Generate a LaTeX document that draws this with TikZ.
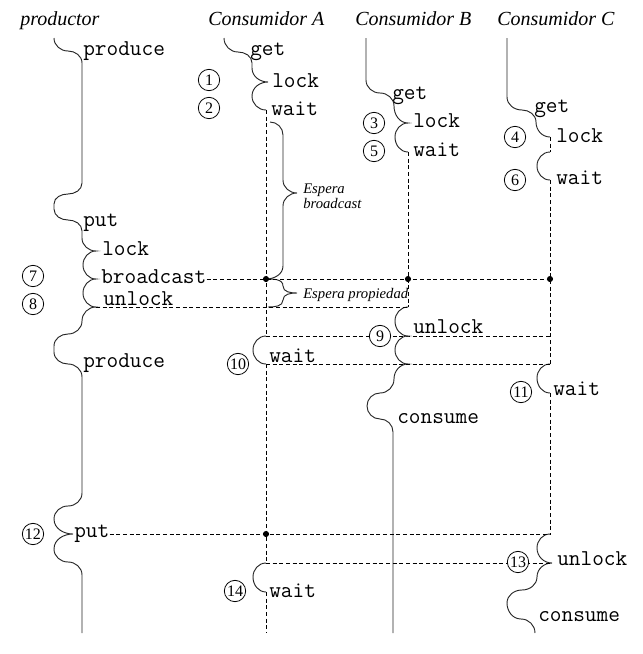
\documentclass[tikz,border=0pt]{standalone}
\usepackage{fontspec}
\setmainfont{Liberation Serif}

\begin{document}
\begin{tikzpicture}[x=0.75pt, y=-0.75pt,
  life/.style={line width=0.7pt, draw=black!85},
  wt/.style={dash pattern=on 3pt off 2pt, line width=0.7pt},
  lbl/.style={font=\fontsize{17}{20}\selectfont\ttfamily, anchor=base west, inner sep=0pt},
  hdr/.style={font=\fontsize{15}{18}\selectfont\itshape, anchor=base west, inner sep=0pt},
  note/.style={font=\fontsize{11}{13}\selectfont\itshape, anchor=base west, inner sep=0pt},
  num/.style={circle, draw, fill=white, line width=0.6pt, minimum size=16pt, inner sep=0pt,
              font=\fontsize{12}{13}\selectfont}]
  \useasboundingbox (0,0) rectangle (643,654);

  % tips of the lifelines
  \coordinate (pLk) at (96,251);  \coordinate (pBc) at (96,279);
  \coordinate (pUn) at (96,307);  \coordinate (pPt) at (73,534);
  \coordinate (aLk) at (268,82);  \coordinate (aWt) at (266,110);
  \coordinate (aW2) at (266,336); \coordinate (aW2t) at (266,364);
  \coordinate (aW3) at (266,563); \coordinate (aW3t) at (266,592);
  \coordinate (aEnd) at (266,633);
  \coordinate (bLk) at (408,123); \coordinate (bWt) at (408,152);
  \coordinate (bUa) at (408,307); \coordinate (bUn) at (408,336);
  \coordinate (bCs) at (408,364);
  \coordinate (cLk) at (550,137); \coordinate (cLk2) at (550,152);
  \coordinate (cWt) at (550,180); \coordinate (cW2) at (550,364);
  \coordinate (cW2t) at (550,393); \coordinate (cUa) at (550,534);
  \coordinate (cUn) at (552,563);
  \coordinate (dA) at (266,279); \coordinate (dB) at (408,279);
  \coordinate (dC) at (550,279); \coordinate (dP) at (266,534);

  \node[hdr] (hProd) at (20,25)  {productor};
  \node[hdr] (hConA) at (208,25) {Consumidor A};
  \node[hdr] (hConB) at (355,25) {Consumidor B};
  \node[hdr] (hConC) at (497,25) {Consumidor C};

  \node[lbl] (lbProd)  at (83,55)   {produce};
  \node[lbl] (lbPut)   at (83,226)  {put};
  \node[lbl] (lbLock)  at (102,255) {lock};
  \node[lbl] (lbBc)    at (101,283) {broadcast};
  \node[lbl] (lbUnl)   at (103,305) {unlock};
  \node[lbl] (lbProd2) at (83,367)  {produce};
  \node[lbl] (lbPut2)  at (74,537)  {put};

  \node[lbl] (laGet)  at (250,55)  {get};
  \node[lbl] (laLock) at (272,87)  {lock};
  \node[lbl] (laWait) at (271,115) {wait};
  \node[lbl] (laW2)   at (269,362) {wait};
  \node[lbl] (laW3)   at (269,597) {wait};

  \node[lbl] (lbGet)  at (392,99)  {get};
  \node[lbl] (lbLk)   at (413,127) {lock};
  \node[lbl] (lbWait) at (413,156) {wait};
  \node[lbl] (lbUn)   at (413,333) {unlock};
  \node[lbl] (lbCons) at (397,423) {consume};

  \node[lbl] (lcGet)  at (534,112) {get};
  \node[lbl] (lcLock) at (556,142) {lock};
  \node[lbl] (lcWait) at (556,184) {wait};
  \node[lbl] (lcW2)   at (553,395) {wait};
  \node[lbl] (lcUn)   at (557,565) {unlock};
  \node[lbl] (lcCons) at (538,621) {consume};

  \node[note] (nEsp)  at (303,193) {Espera};
  \node[note] (nBc)   at (303,208) {broadcast};
  \node[note] (nProp) at (303,298) {Espera propiedad};

  % productor
  \draw[life] (54,38) to[out=-90,in=180] (68,51) to[out=0,in=90] (82,63) -- (82,183)
    to[out=-90,in=0] (68,194) to[out=180,in=90] (54,204) -- (54,209)
    to[out=-90,in=180] (68,220) to[out=0,in=90] (82,231) -- (82,238)
    to[out=-90,in=180] (pLk) to[out=180,in=90] (83,265) to[out=-90,in=180] (pBc)
    to[out=180,in=90] (83,293) to[out=-90,in=180] (pUn)
    to[out=180,in=90] (82,321) to[out=-90,in=0] (68,334) to[out=180,in=90] (54,346) -- (54,352)
    to[out=-90,in=180] (68,364) to[out=0,in=90] (82,377) -- (82,493)
    to[out=-90,in=0] (68,506) to[out=180,in=90] (54,519) to[out=-90,in=180] (pPt)
    to[out=180,in=90] (54,549) to[out=-90,in=180] (68,562) to[out=0,in=90] (82,575) -- (82,633);

  % consumidor A
  \draw[life] (224,38) to[out=-90,in=180] (238,52) to[out=0,in=90] (252,63) -- (252,68)
    to[out=-90,in=180] (aLk) to[out=180,in=90] (252,96) to[out=-90,in=180] (aWt);
  \draw[life] (aW2) to[out=180,in=90] (253,350) to[out=-90,in=180] (aW2t);
  \draw[life] (aW3) to[out=180,in=90] (253,577) to[out=-90,in=180] (aW3t);
  \draw[wt] (aWt) -- (aW2);
  \draw[wt] (aW2t) -- (aW3);
  \draw[wt] (aW3t) -- (aEnd);

  \draw[life] (270,122) to[out=0,in=90] (283,135) -- (283,180) to[out=-90,in=180] (297,193)
    to[out=180,in=90] (283,206) -- (283,266) to[out=-90,in=0] (dA);
  \draw[life] (dA) to[out=0,in=90] (283,286) to[out=-90,in=180] (297,293)
    to[out=180,in=90] (283,300) to[out=-90,in=0] (268,307);

  % consumidor B
  \draw[life] (366,38) -- (366,80) to[out=-90,in=180] (380,93) to[out=0,in=90] (394,106)
    to[out=-90,in=180] (bLk) to[out=180,in=90] (395,137) to[out=-90,in=180] (bWt);
  \draw[life] (bUa) to[out=180,in=90] (395,321) to[out=-90,in=180] (bUn)
    to[out=180,in=90] (395,350) to[out=-90,in=180] (bCs)
    to[out=180,in=90] (394,379) to[out=-90,in=0] (380,393) to[out=180,in=90] (367,406)
    to[out=-90,in=180] (380,419) to[out=0,in=90] (393,432) -- (393,633);
  \draw[wt] (bWt) -- (bUa);

  % consumidor C
  \draw[life] (507,38) -- (507,97) to[out=-90,in=180] (522,110) to[out=0,in=90] (536,122)
    to[out=-90,in=180] (cLk);
  \draw[life] (cLk2) to[out=180,in=90] (537,166) to[out=-90,in=180] (cWt);
  \draw[life] (cW2) to[out=180,in=90] (537,378) to[out=-90,in=180] (cW2t);
  \draw[life] (cUa) to[out=180,in=90] (537,548) to[out=-90,in=180] (cUn)
    to[out=180,in=90] (537,577) to[out=-90,in=0] (522,590) to[out=180,in=90] (507,603)
    to[out=-90,in=180] (521,619) to[out=0,in=90] (535,633);
  \draw[wt] (cLk) -- (cLk2);
  \draw[wt] (cWt) -- (cW2);
  \draw[wt] (cW2t) -- (cUa);

  % horizontal links
  \draw[wt] (lbBc.east |- pBc) -- (dC);
  \draw[wt] (pUn) -- (bUa);
  \draw[wt] (aW2) -- (bUn) -- (cWt |- bUn);
  \draw[wt] (aW2t) -- (cW2);
  \draw[wt] (lbPut2.east |- pPt) -- (cUa);
  \draw[wt] (aW3) -- (cUn);

  \foreach \d in {dA,dB,dC,dP}
    \fill (\d) circle[radius=2.3pt];

  \node[num] (n1)  at (209,80)  {1};
  \node[num] (n2)  at (209,108) {2};
  \node[num] (n3)  at (374,123) {3};
  \node[num] (n4)  at (515,137) {4};
  \node[num] (n5)  at (374,151) {5};
  \node[num] (n6)  at (515,180) {6};
  \node[num] (n7)  at (33,276)  {7};
  \node[num] (n8)  at (33,304)  {8};
  \node[num] (n9)  at (380,336) {9};
  \node[num] (n10) at (238,364) {10};
  \node[num] (n11) at (521,392) {11};
  \node[num] (n12) at (33,534)  {12};
  \node[num] (n13) at (518,562) {13};
  \node[num] (n14) at (235,591) {14};
\end{tikzpicture}
\end{document}
